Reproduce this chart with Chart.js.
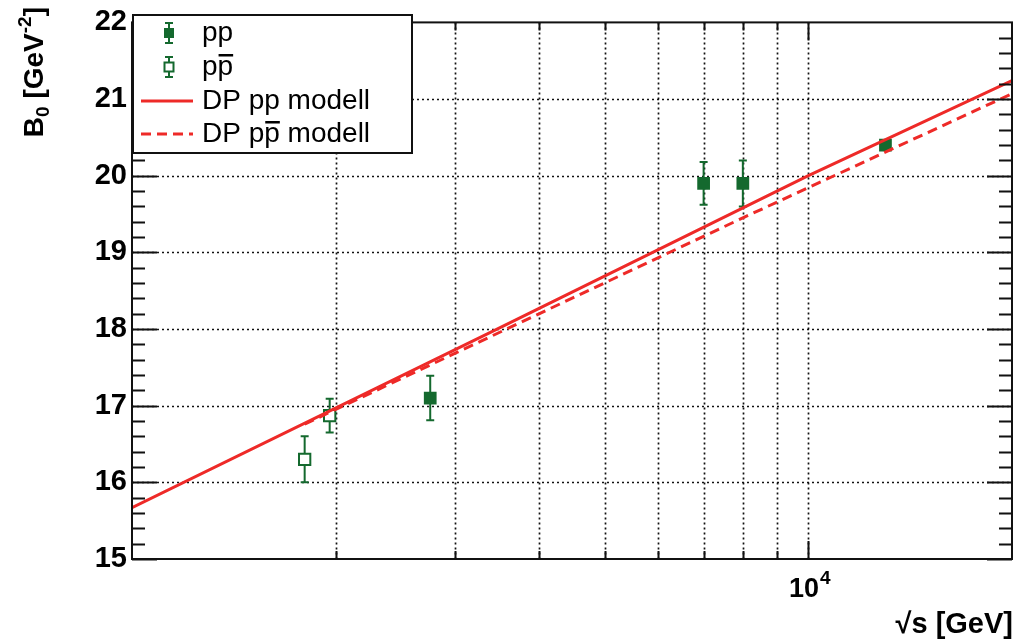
<!DOCTYPE html>
<html><head><meta charset="utf-8">
<script src="https://cdn.jsdelivr.net/npm/chart.js@4.4.1/dist/chart.umd.min.js"></script>
<style>html,body{margin:0;padding:0;background:#fff;overflow:hidden}</style>
</head><body>
<canvas id="c" width="1022" height="641"></canvas>
<script>
// ---- data ----
const ppEnergy = [2760, 7000, 8000, 13000];
const ppB0 = [17.1, 19.9, 19.9, 20.4];
const ppErr = [0.29, 0.28, 0.3, 0.05];

const ppbarEnergy = [1800, 1960];
const ppbarB0 = [16.3, 16.87];
const ppbarErr = [0.3, 0.22];

const modelPPEnergy = [1000, 3465, 10000, 20000];
const modelPPB0 = [15.67, 18.0, 20.0, 21.24];

const modelPPbarEnergy = [1800, 8000, 20000];
const modelPPbarB0 = [16.76, 19.45, 21.07];

const yTickValues = [15, 16, 17, 18, 19, 20, 21, 22];
const xGridValues = [2000, 3000, 4000, 5000, 6000, 7000, 8000, 9000, 10000];
const xLabelled = [10000];
const xLabelText = {10000: ['10', '4']};

const legendLabels = ['pp', 'pp', 'DP pp modell', 'DP pp modell'];

const GREEN = '#14692e';
const RED = '#ee2a28';
const FONT = "'Liberation Sans', Arial, Helvetica, sans-serif";

const toXY = (xs, ys) => xs.map((x, i) => ({x: x, y: ys[i]}));

function errorBars(ctx, xs, ys, energies, vals, errs) {
  ctx.save();
  ctx.strokeStyle = GREEN;
  ctx.lineWidth = 2;
  energies.forEach((e, i) => {
    const px = xs.getPixelForValue(e);
    const top = ys.getPixelForValue(vals[i] + errs[i]);
    const bot = ys.getPixelForValue(vals[i] - errs[i]);
    ctx.beginPath();
    ctx.moveTo(px, top); ctx.lineTo(px, bot);
    ctx.moveTo(px - 4, top); ctx.lineTo(px + 4, top);
    ctx.moveTo(px - 4, bot); ctx.lineTo(px + 4, bot);
    ctx.stroke();
  });
  ctx.restore();
}

const rootStyle = {
  id: 'rootStyle',
  beforeDatasetsDraw(chart) {
    const {ctx, chartArea: a, scales: {x, y}} = chart;
    ctx.save();
    ctx.strokeStyle = '#111';
    ctx.lineWidth = 1.7;
    ctx.setLineDash([2, 3]);
    yTickValues.forEach(v => {
      if (v === 15 || v === 22) return;
      const py = Math.round(y.getPixelForValue(v)) + 0.5;
      ctx.beginPath(); ctx.moveTo(a.left, py); ctx.lineTo(a.right, py); ctx.stroke();
    });
    xGridValues.forEach(v => {
      const px = Math.round(x.getPixelForValue(v)) + 0.5;
      ctx.beginPath(); ctx.moveTo(px, a.top); ctx.lineTo(px, a.bottom); ctx.stroke();
    });
    ctx.restore();
    errorBars(ctx, x, y, ppEnergy, ppB0, ppErr);
    errorBars(ctx, x, y, ppbarEnergy, ppbarB0, ppbarErr);
  },
  afterDatasetsDraw(chart) {
    const {ctx, chartArea: a, scales: {x, y}} = chart;
    ctx.save();
    ctx.strokeStyle = '#111';
    ctx.lineWidth = 2;
    ctx.setLineDash([]);
    ctx.strokeRect(a.left, a.top, a.right - a.left, a.bottom - a.top);
    // y ticks (major + minor) on both sides
    ctx.beginPath();
    for (let i = 0; i < yTickValues.length - 1; i++) {
      for (let k = 0; k < 5; k++) {
        const v = yTickValues[i] + k * (yTickValues[i + 1] - yTickValues[i]) / 5;
        const py = Math.round(y.getPixelForValue(v)) + 0.5;
        const len = k === 0 ? 25 : 13;
        ctx.moveTo(a.left, py); ctx.lineTo(a.left + len, py);
        ctx.moveTo(a.right, py); ctx.lineTo(a.right - len, py);
      }
    }
    // x ticks bottom and top
    xGridValues.forEach(v => {
      const px = Math.round(x.getPixelForValue(v)) + 0.5;
      const len = xLabelled.includes(v) ? 18 : 8;
      ctx.moveTo(px, a.bottom); ctx.lineTo(px, a.bottom - len);
      ctx.moveTo(px, a.top); ctx.lineTo(px, a.top + len);
    });
    ctx.stroke();
    ctx.restore();

    ctx.save();
    ctx.fillStyle = '#000';
    ctx.textBaseline = 'alphabetic';
    // x tick label with superscript exponent
    xLabelled.forEach(v => {
      const [base, exp] = xLabelText[v];
      const px = x.getPixelForValue(v);
      ctx.font = `bold 27px ${FONT}`;
      const wb = ctx.measureText(base).width;
      ctx.font = `bold 19px ${FONT}`;
      const we = ctx.measureText(exp).width;
      const x0 = px - (wb + we) / 2 + 1;
      ctx.font = `bold 27px ${FONT}`;
      ctx.textAlign = 'left';
      ctx.fillText(base, x0, 597);
      ctx.font = `bold 19px ${FONT}`;
      ctx.fillText(exp, x0 + wb + 1, 584);
    });
    // x title
    ctx.font = `bold 29px ${FONT}`;
    ctx.textAlign = 'right';
    ctx.fillText('\u221As [GeV]', a.right + 1, 633);
    // y title, rotated, top-aligned
    const big = `bold 28px ${FONT}`, small = `bold 19px ${FONT}`;
    const parts = [
      {t: 'B', f: big, dy: 0},
      {t: '0', f: small, dy: 6},
      {t: ' [GeV', f: big, dy: 0},
      {t: '-2', f: small, dy: -12},
      {t: ']', f: big, dy: 0}
    ];
    let W = 0;
    parts.forEach(p => { ctx.font = p.f; p.w = ctx.measureText(p.t).width; W += p.w; });
    ctx.translate(43, 7 + W);
    ctx.rotate(-Math.PI / 2);
    ctx.textAlign = 'left';
    let cx = 0;
    parts.forEach(p => { ctx.font = p.f; ctx.fillText(p.t, cx, p.dy); cx += p.w; });
    ctx.restore();

    // legend
    ctx.save();
    const L = {x: 133, y: 15, w: 279, h: 138};
    ctx.fillStyle = '#fff';
    ctx.fillRect(L.x, L.y, L.w, L.h);
    ctx.strokeStyle = '#111';
    ctx.lineWidth = 2;
    ctx.strokeRect(L.x, L.y, L.w, L.h);
    const rows = [33, 67, 101, 134];
    const mx = 169;
    [0, 1].forEach(i => {
      const ry = rows[i];
      ctx.strokeStyle = GREEN; ctx.lineWidth = 2;
      ctx.beginPath();
      ctx.moveTo(mx, ry - 10); ctx.lineTo(mx, ry + 10);
      ctx.moveTo(mx - 4, ry - 10); ctx.lineTo(mx + 4, ry - 10);
      ctx.moveTo(mx - 4, ry + 10); ctx.lineTo(mx + 4, ry + 10);
      ctx.stroke();
      if (i === 0) { ctx.fillStyle = GREEN; ctx.fillRect(mx - 5, ry - 5, 10, 10); }
      else { ctx.fillStyle = '#fff'; ctx.fillRect(mx - 4.5, ry - 4.5, 9, 9); ctx.strokeRect(mx - 4.5, ry - 4.5, 9, 9); }
    });
    ctx.strokeStyle = RED; ctx.lineWidth = 3;
    ctx.beginPath(); ctx.moveTo(141, rows[2]); ctx.lineTo(193, rows[2]); ctx.stroke();
    ctx.setLineDash([10, 6]);
    ctx.beginPath(); ctx.moveTo(141, rows[3]); ctx.lineTo(193, rows[3]); ctx.stroke();
    ctx.setLineDash([]);
    ctx.fillStyle = '#000';
    ctx.font = `28px ${FONT}`;
    ctx.textAlign = 'left';
    ctx.textBaseline = 'alphabetic';
    const tx = 202;
    legendLabels.forEach((t, i) => {
      ctx.fillText(t, tx, rows[i] + 8);
    });
    // overline (anti-proton bar) on second "p" of rows 1 and 3
    const overline = (prefix, ry) => {
      const x0 = tx + ctx.measureText(prefix).width;
      const pw = ctx.measureText('p').width;
      ctx.fillRect(x0 + 1, ry - 13, pw - 1, 2.5);
    };
    overline('p', rows[1]);
    overline('DP p', rows[3]);
    ctx.restore();
  }
};

new Chart(document.getElementById('c').getContext('2d'), {
  type: 'scatter',
  data: {
    datasets: [
      {label: 'DP pp modell', data: toXY(modelPPEnergy, modelPPB0), showLine: true,
       borderColor: RED, borderWidth: 3, pointRadius: 0, fill: false},
      {label: 'DP p\u0305p modell', data: toXY(modelPPbarEnergy, modelPPbarB0), showLine: true,
       borderColor: RED, borderWidth: 3, borderDash: [10, 6], pointRadius: 0, fill: false},
      {label: 'pp', data: toXY(ppEnergy, ppB0), pointStyle: 'rect', pointRadius: 9,
       backgroundColor: GREEN, borderColor: GREEN, borderWidth: 0},
      {label: 'pp\u0305', data: toXY(ppbarEnergy, ppbarB0), pointStyle: 'rect', pointRadius: 8,
       backgroundColor: '#fff', borderColor: GREEN, borderWidth: 2}
    ]
  },
  options: {
    responsive: false,
    animation: false,
    devicePixelRatio: 1,
    layout: {padding: {top: 16, right: 5, left: 0, bottom: 0}},
    plugins: {legend: {display: false}, tooltip: {enabled: false}},
    scales: {
      x: {
        type: 'logarithmic', min: 1000, max: 20000,
        grid: {display: false, drawTicks: false}, border: {display: false},
        afterBuildTicks: s => { s.ticks = xGridValues.map(v => ({value: v})); },
        ticks: {autoSkip: false, maxRotation: 0, minRotation: 0, padding: 13, color: '#000',
          font: {family: FONT, size: 27, weight: 'bold'},
          callback: () => ''},
        afterFit: s => { s.height = 82; }
      },
      y: {
        type: 'linear', min: 15, max: 22,
        grid: {display: false, drawTicks: false}, border: {display: false},
        afterBuildTicks: s => { s.ticks = yTickValues.map(v => ({value: v})); },
        ticks: {padding: 5, color: '#000', font: {family: FONT, size: 29, weight: 'bold'}},
        afterFit: s => { s.width = 132; }
      }
    }
  },
  plugins: [rootStyle]
});
</script>
</body></html>
